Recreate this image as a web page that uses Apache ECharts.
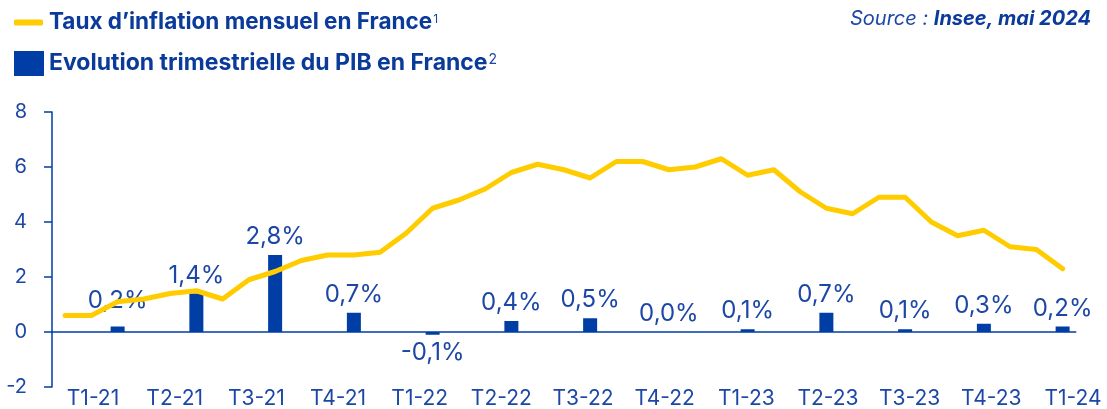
<!DOCTYPE html>
<html>
<head>
<meta charset="utf-8">
<script src="https://cdn.jsdelivr.net/npm/echarts@6/dist/echarts.min.js"></script>
<style>
  html, body { margin: 0; padding: 0; background: #fff; }
  #chart { width: 1107px; height: 409px; }
</style>
</head>
<body>
<div id="chart"></div>
<script>
// monthly points, Jan 2021 -> Mar 2024
const months = [
  'janv-21','févr-21','mars-21','avr-21','mai-21','juin-21','juil-21','août-21','sept-21','oct-21','nov-21','déc-21',
  'janv-22','févr-22','mars-22','avr-22','mai-22','juin-22','juil-22','août-22','sept-22','oct-22','nov-22','déc-22',
  'janv-23','févr-23','mars-23','avr-23','mai-23','juin-23','juil-23','août-23','sept-23','oct-23','nov-23','déc-23',
  'janv-24','févr-24','mars-24'
];
const inflation = [
  0.6, 0.6, 1.1, 1.2, 1.4, 1.5, 1.2, 1.9, 2.2, 2.6, 2.8, 2.8,
  2.9, 3.6, 4.5, 4.8, 5.2, 5.8, 6.1, 5.9, 5.6, 6.2, 6.2, 5.9,
  6.0, 6.3, 5.7, 5.9, 5.1, 4.5, 4.3, 4.9, 4.9, 4.0, 3.5, 3.7,
  3.1, 3.0, 2.3
];
// quarterly GDP growth, drawn on the last month of each quarter
const quarters = ['T1-21','T2-21','T3-21','T4-21','T1-22','T2-22','T3-22','T4-22','T1-23','T2-23','T3-23','T4-23','T1-24'];
const gdp = [0.2, 1.4, 2.8, 0.7, -0.1, 0.4, 0.5, 0.0, 0.1, 0.7, 0.1, 0.3, 0.2];

const yTicks = { min: -2, max: 8, step: 2 };

const BLUE = '#003da5';
const TEXT = '#1c47a6';
const YELLOW = '#ffcc00';
const FONT = 'Inter, "Noto Sans", sans-serif';

const nameLine = 'Taux d’inflation mensuel en France';
const nameBar = 'Evolution trimestrielle du PIB en France';

let gdpMonthly = months.map(function (m, i) {
  if (i % 3 !== 2) return '-';
  let q = (i - 2) / 3;
  let v = gdp[q];
  // first label sits a bit higher in the original
  return { value: v, label: { position: v < 0 ? 'bottom' : 'top', distance: q === 0 ? 14 : 6 } };
});

function pct(v) {
  return v.toFixed(1).replace('.', ',') + '%';
}

var chart = echarts.init(document.getElementById('chart'));

var option = {
  animation: false,
  textStyle: { fontFamily: FONT },
  title: {
    text: '{a|Source : }{b|Insee, mai 2024}',
    right: 11,
    top: 4,
    textStyle: {
      rich: {
        a: { fontFamily: FONT, fontSize: 20, fontStyle: 'italic', fontWeight: 'normal', color: TEXT },
        b: { fontFamily: FONT, fontSize: 20, fontStyle: 'italic', fontWeight: 'bold', color: '#0a3a9a' }
      }
    }
  },
  legend: [
    {
      data: [{ name: nameLine, icon: 'roundRect' }],
      left: 9, top: 6,
      itemWidth: 29, itemHeight: 6,
      formatter: function (n) { return '{t|' + n + '}{s|1}'; },
      textStyle: {
        rich: {
          t: { fontFamily: FONT, fontSize: 22.5, fontWeight: 'bold', color: '#0a3a9a', padding: [0, 0, 0, 1] },
          s: { fontFamily: FONT, fontSize: 12, color: TEXT, verticalAlign: 'top', padding: [2, 0, 0, 1] }
        }
      }
    },
    {
      data: [{ name: nameBar, icon: 'rect' }],
      left: 9, top: 46,
      itemWidth: 30, itemHeight: 25,
      formatter: function (n) { return '{t|' + n + '}{s|2}'; },
      textStyle: {
        rich: {
          t: { fontFamily: FONT, fontSize: 23, fontWeight: 'bold', color: '#0a3a9a', padding: [0, 0, 0, 0] },
          s: { fontFamily: FONT, fontSize: 14, color: TEXT, verticalAlign: 'top', padding: [1, 0, 0, 1] }
        }
      }
    }
  ],
  grid: [
    { left: 52, top: 112, width: 1023.75, height: 275 },
    { left: 93, top: 112, width: 980, height: 275 }
  ],
  xAxis: [
    {
      type: 'category',
      gridIndex: 0,
      data: months,
      boundaryGap: true,
      axisLine: { show: true, onZero: true, lineStyle: { color: BLUE, width: 1.5 } },
      axisTick: { show: false },
      axisLabel: { show: false }
    },
    {
      type: 'category',
      gridIndex: 1,
      data: quarters,
      boundaryGap: false,
      axisLine: { show: false },
      axisTick: { show: false },
      axisLabel: { color: TEXT, fontSize: 21, margin: 1, fontFamily: FONT }
    }
  ],
  yAxis: [
    {
      type: 'value',
      gridIndex: 0,
      min: yTicks.min, max: yTicks.max, interval: yTicks.step,
      axisLine: { show: true, lineStyle: { color: BLUE, width: 1.5 } },
      axisTick: { show: true, length: 8, lineStyle: { color: BLUE, width: 1.5 } },
      splitLine: { show: false },
      axisLabel: { color: TEXT, fontSize: 20, margin: 25, fontFamily: FONT }
    },
    { type: 'value', gridIndex: 1, min: 0, max: 1, show: false }
  ],
  series: [
    {
      name: nameBar,
      type: 'bar',
      xAxisIndex: 0, yAxisIndex: 0,
      data: gdpMonthly,
      barWidth: 14,
      itemStyle: { color: BLUE },
      label: {
        show: true,
        color: TEXT,
        fontSize: 24,
        fontFamily: FONT,
        formatter: function (p) { return pct(p.value); }
      },
      z: 2
    },
    {
      name: nameLine,
      type: 'line',
      xAxisIndex: 0, yAxisIndex: 0,
      data: inflation,
      showSymbol: false,
      symbol: 'none',
      lineStyle: { color: YELLOW, width: 5, cap: 'round', join: 'round' },
      itemStyle: { color: YELLOW },
      z: 3
    }
  ]
};

chart.setOption(option);
</script>
</body>
</html>
